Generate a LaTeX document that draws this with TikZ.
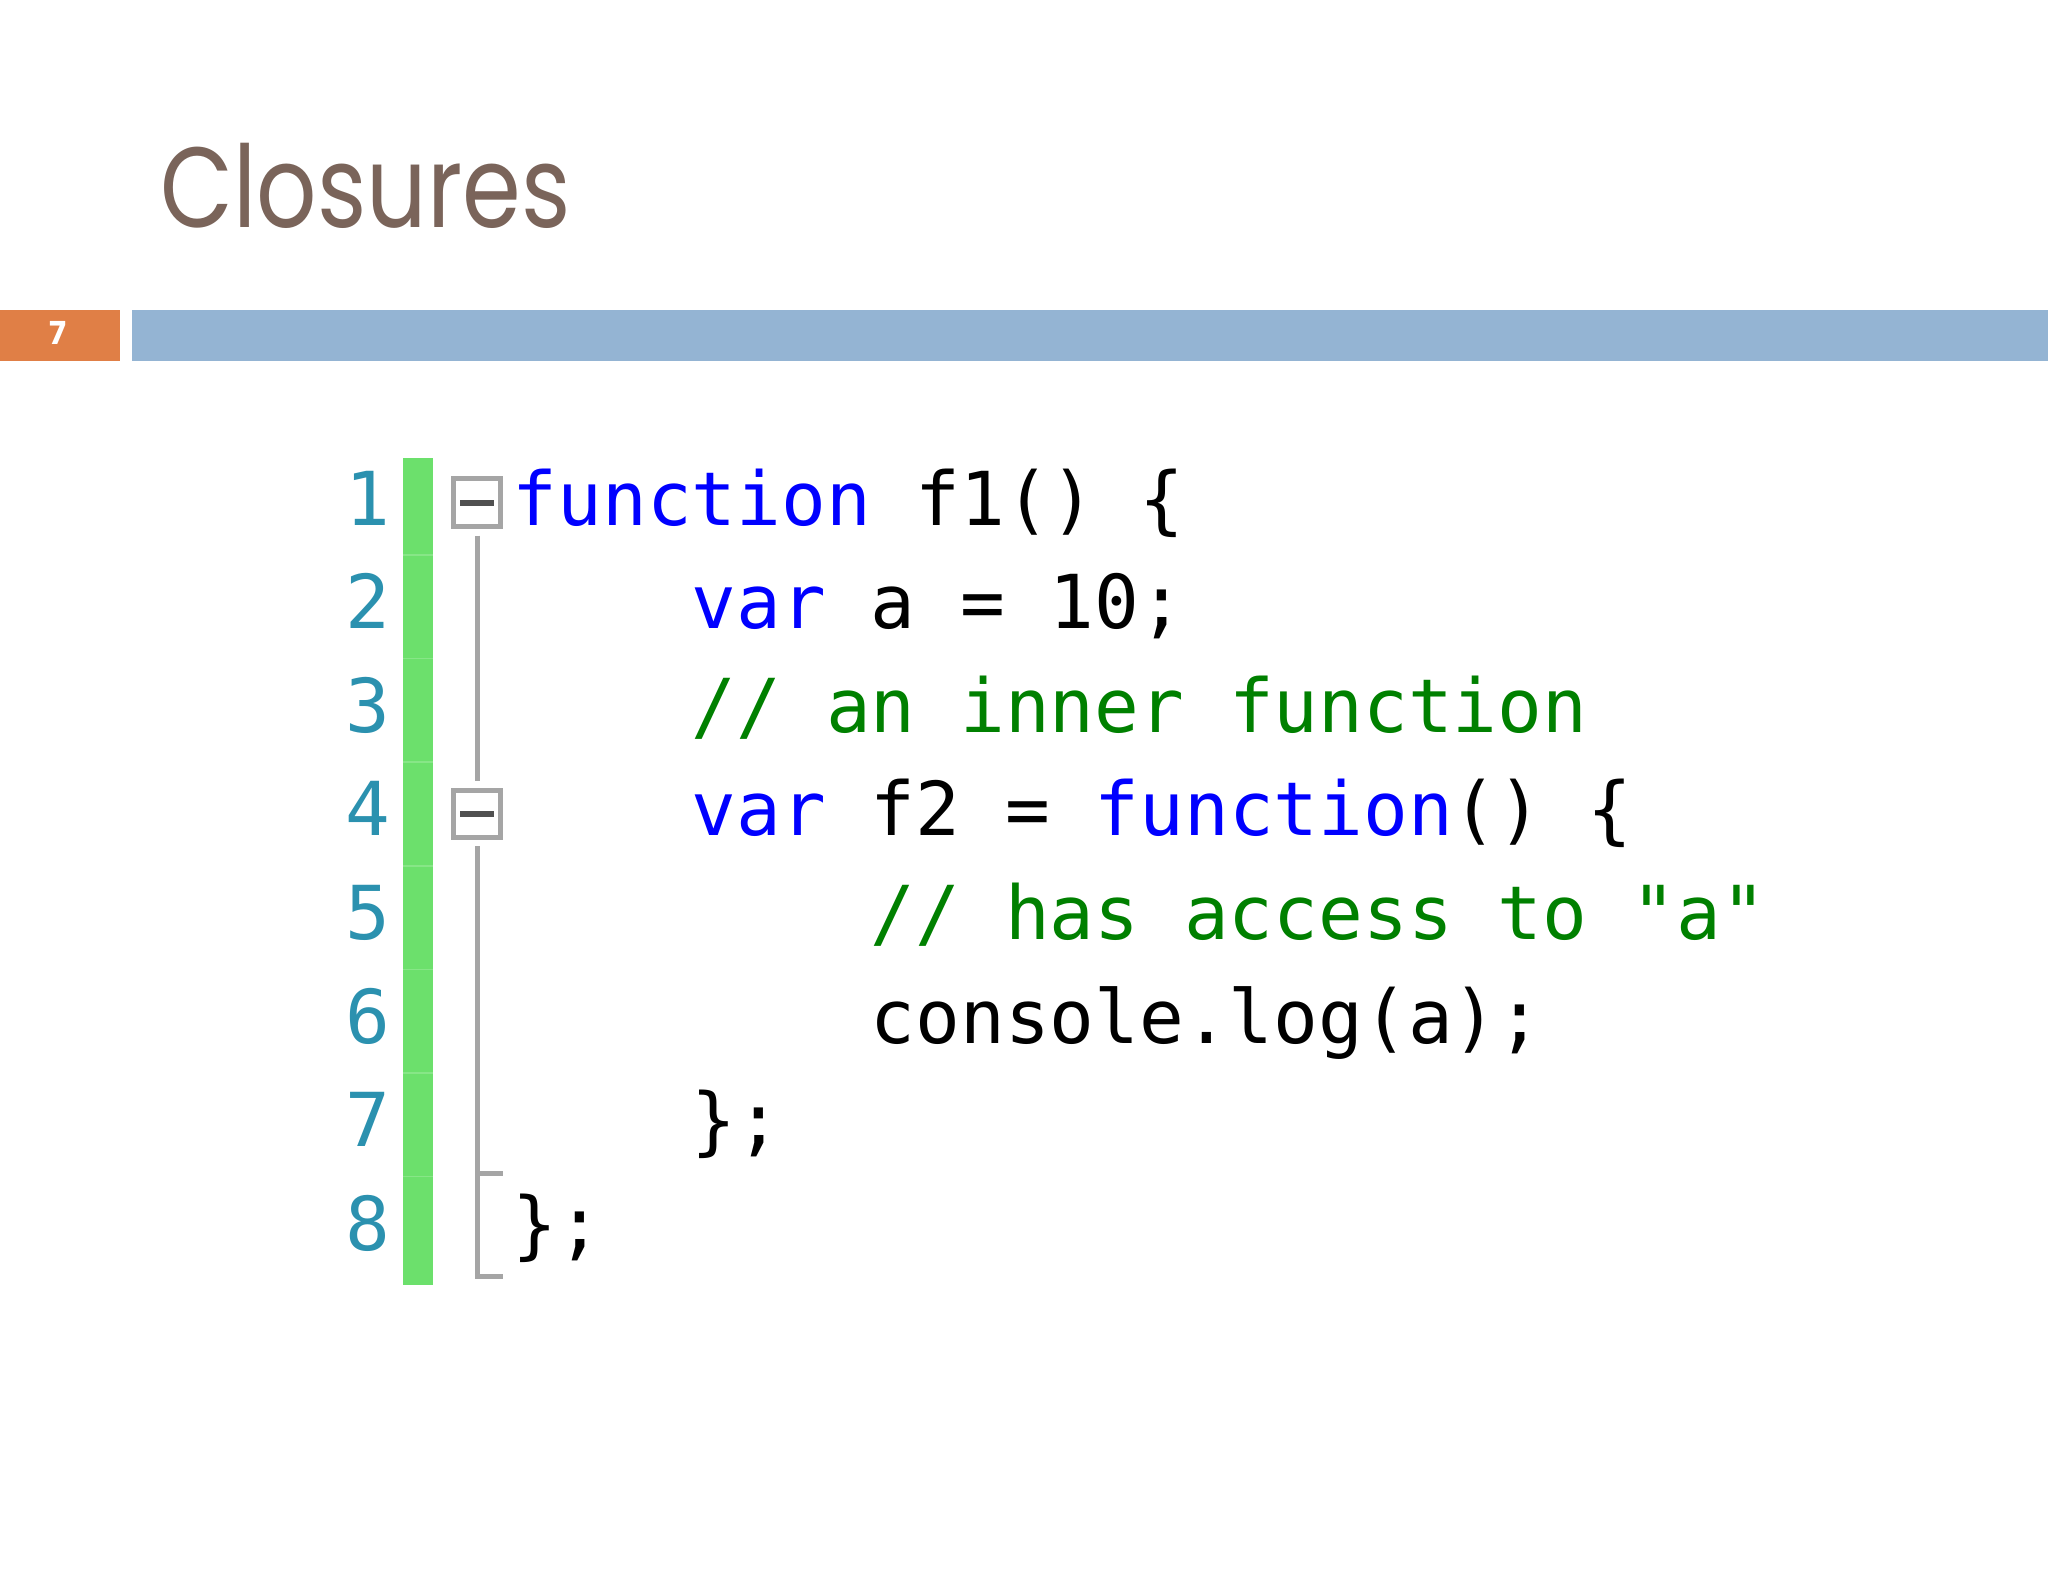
\documentclass[tikz,border=0pt]{standalone}
\usepackage{fontspec}
\newfontfamily\codefont{DejaVu Sans Mono}
\newfontfamily\titlefont{Poppins}[FakeStretch=0.83]
\newfontfamily\numfont{Poppins}
\usetikzlibrary{positioning}

\definecolor{barorange}{RGB}{224,127,70}
\definecolor{barblue}{RGB}{148,180,211}
\definecolor{titlebrown}{RGB}{122,100,90}
\definecolor{changegreen}{RGB}{108,224,108}
\definecolor{changeline}{RGB}{135,230,135}
\definecolor{lineblue}{RGB}{43,145,175}
\definecolor{kwblue}{RGB}{0,0,255}
\definecolor{cmtgreen}{RGB}{0,128,0}
\definecolor{foldgray}{RGB}{165,165,165}
\definecolor{minusgray}{RGB}{80,80,80}

\newcommand\kwd[1]{\textcolor{kwblue}{#1}}
\newcommand\cmt[1]{\textcolor{cmtgreen}{#1}}

\tikzset{
  codeline/.style={anchor=base west, inner sep=0pt, font=\codefont\fontsize{21.15}{25}\selectfont},
  lineno/.style={anchor=base east, inner sep=0pt, text=lineblue, font=\codefont\fontsize{21.15}{25}\selectfont},
  foldbox/.style={draw=foldgray, fill=white, line width=0.05cm, inner sep=0pt, minimum size=0.47cm},
  foldline/.style={draw=foldgray, line width=0.05cm},
}

\begin{document}
\begin{tikzpicture}[x=0.01cm, y=-0.01cm]
  \useasboundingbox (0,0) rectangle (2048,1582);
  % header
  \node[anchor=base west, inner sep=0pt, text=titlebrown, font=\titlefont\fontsize{32.4}{38}\selectfont] (title) at (160,228) {Closures};
  \fill[barorange] (0,310) rectangle (120,361);
  \fill[barblue] (132,310) rectangle (2048,361);
  \node[inner sep=0pt, text=white, font=\numfont\bfseries\fontsize{9}{10}\selectfont] (slideno) at (58,333) {7};
  % change bar
  \fill[changegreen] (403,458) rectangle (433,1285);
  \foreach \k in {0,...,6}
    \draw[changeline, line width=0.015cm] (403,{555+\k*103.6}) -- (433,{555+\k*103.6});
  % line numbers
  \foreach \i in {1,...,8}
    \node[lineno] (n\i) at (391,{525+(\i-1)*103.6}) {\i};
  % code
  \node[codeline] (c1) at (512,525) {\kwd{function} f1() \{};
  \node[codeline] (c2) at (691,628.6) {\kwd{var} a = 10;};
  \node[codeline] (c3) at (691,732.2) {\cmt{// an inner function}};
  \node[codeline] (c4) at (691,835.8) {\kwd{var} f2 = \kwd{function}() \{};
  \node[codeline] (c5) at (870,939.4) {\cmt{// has access to "a"}};
  \node[codeline] (c6) at (870,1043) {console.log(a);};
  \node[codeline] (c7) at (691,1146.6) {\};};
  \node[codeline] (c8) at (512,1250.2) {\};};
  % outlining
  \node[foldbox] (fold1) at (477,502.5) {\textcolor{minusgray}{\rule{0.33cm}{0.06cm}}};
  \node[foldbox] (fold4) at (477,814) {\textcolor{minusgray}{\rule{0.33cm}{0.06cm}}};
  \coordinate (end7) at (503,1173);
  \coordinate (end8) at (503,1276);
  \draw[foldline, shorten <=0.07cm, shorten >=0.07cm] (fold1.south) -- (fold4.north);
  \draw[foldline] ([yshift=-0.06cm]fold4.south) |- (end8);
  \draw[foldline] (fold4 |- end7) -- (end7);
\end{tikzpicture}
\end{document}
